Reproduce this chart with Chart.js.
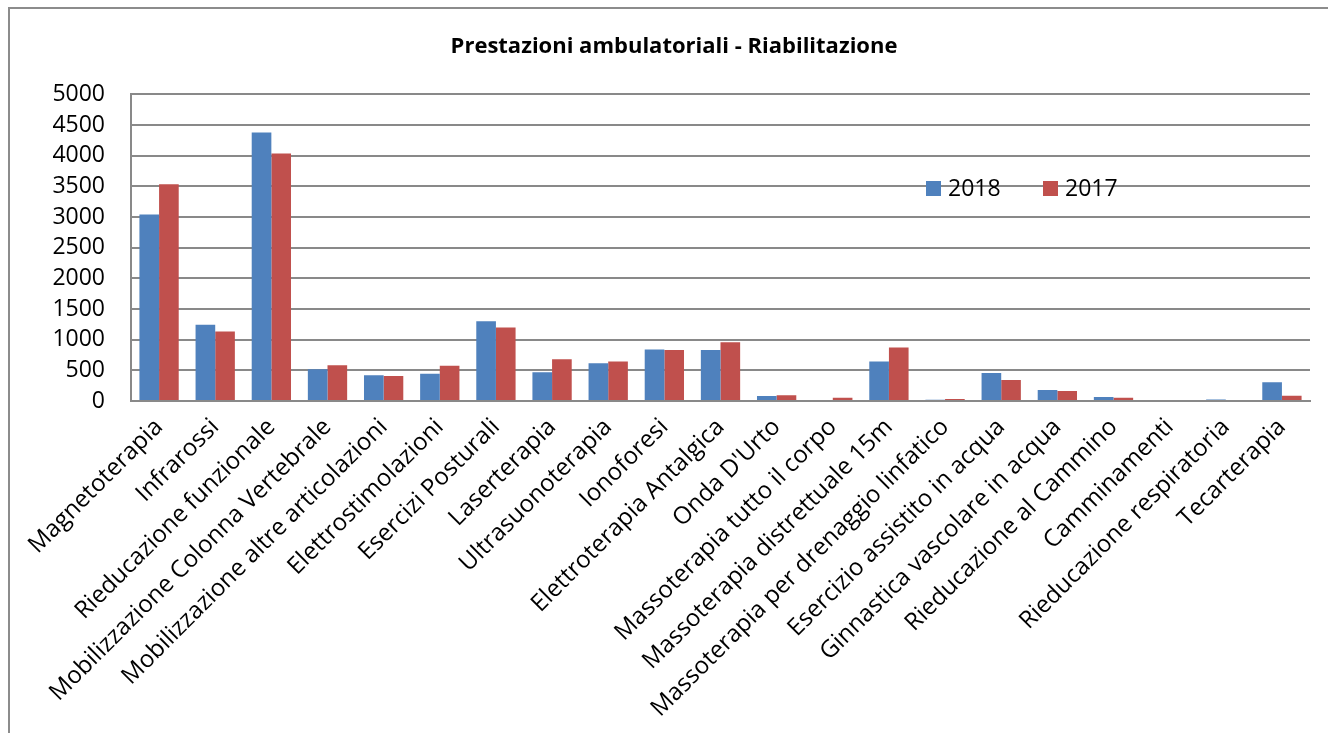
<!DOCTYPE html>
<html>
<head>
<meta charset="utf-8">
<title>Prestazioni ambulatoriali - Riabilitazione</title>
<script src="https://cdn.jsdelivr.net/npm/chart.js@4/dist/chart.umd.min.js"></script>
<style>
    html, body { margin: 0; padding: 0; background: #fff; overflow: hidden; }
    #wrap { position: relative; width: 1328px; height: 733px; }
</style>
</head>
<body>
<div id="wrap"><canvas id="riabChart" width="1328" height="733"></canvas></div>
<script>
const categories = [
    'Magnetoterapia', 'Infrarossi', 'Rieducazione funzionale', 'Mobilizzazione Colonna Vertebrale',
    'Mobilizzazione altre articolazioni', 'Elettrostimolazioni', 'Esercizi Posturali', 'Laserterapia',
    'Ultrasuonoterapia', 'Ionoforesi', 'Elettroterapia Antalgica', "Onda D'Urto",
    'Massoterapia tutto il corpo', 'Massoterapia distrettuale 15m', 'Massoterapia per drenaggio linfatico',
    'Esercizio assistito in acqua', 'Ginnastica vascolare in acqua', 'Rieducazione al Cammino',
    'Camminamenti', 'Rieducazione respiratoria', 'Tecarterapia'
];
const values2018 = [3040, 1245, 4380, 516, 418, 445, 1302, 467, 614, 841, 830, 81, 16, 646, 22, 458, 179, 65, 0, 25, 305];
const values2017 = [3535, 1135, 4037, 581, 407, 575, 1200, 679, 646, 830, 960, 93, 54, 874, 32, 342, 163, 54, 0, 0, 86];
const yTicks = [0, 500, 1000, 1500, 2000, 2500, 3000, 3500, 4000, 4500, 5000];

const FONT = "'Open Sans', 'DejaVu Sans', sans-serif";
const BLUE = '#4F81BD';
const RED = '#C0504D';
const GRID = '#898989';

// outer frame of the chart object (top and left edges)
const framePlugin = {
    id: 'frame',
    beforeDraw(chart) {
        const ctx = chart.ctx;
        ctx.save();
        ctx.strokeStyle = '#8c8c8c';
        ctx.lineWidth = 2;
        ctx.beginPath();
        ctx.moveTo(9, 733);
        ctx.lineTo(9, 8);
        ctx.lineTo(1328, 8);
        ctx.stroke();
        ctx.restore();
    }
};

// legend sitting inside the plot area, right of centre
const innerLegend = {
    id: 'innerLegend',
    afterDatasetsDraw(chart) {
        const ctx = chart.ctx;
        const y = 188;
        let x = 926;
        ctx.save();
        ctx.font = '23px ' + FONT;
        ctx.textBaseline = 'middle';
        chart.data.datasets.forEach(ds => {
            ctx.fillStyle = ds.backgroundColor;
            ctx.fillRect(x, y - 7, 15, 15);
            ctx.fillStyle = '#000';
            ctx.fillText(ds.label, x + 22, y + 1);
            x += 117;
        });
        ctx.restore();
    }
};

const ctx = document.getElementById('riabChart').getContext('2d');
const riabChart = new Chart(ctx, {
    type: 'bar',
    data: {
        labels: categories,
        datasets: [{
            label: '2018',
            data: values2018,
            backgroundColor: BLUE,
            categoryPercentage: 0.7,
            barPercentage: 1.0
        }, {
            label: '2017',
            data: values2017,
            backgroundColor: RED,
            categoryPercentage: 0.7,
            barPercentage: 1.0
        }]
    },
    options: {
        responsive: false,
        animation: false,
        layout: { padding: { left: 38, right: 18, top: 0, bottom: 0 } },
        plugins: {
            legend: { display: false },
            tooltip: { enabled: false },
            title: {
                display: true,
                text: 'Prestazioni ambulatoriali - Riabilitazione',
                color: '#000',
                font: { family: FONT, size: 22, weight: 'bold', lineHeight: 1.2 },
                padding: { top: 34, bottom: 34 }
            }
        },
        scales: {
            x: {
                grid: { display: false, drawTicks: false },
                border: { display: true, color: GRID, width: 2 },
                ticks: {
                    color: '#000',
                    font: { family: FONT, size: 24 },
                    maxRotation: 45,
                    minRotation: 45,
                    autoSkip: false,
                    padding: 12
                },
                afterFit(scale) { scale.height = 332; }
            },
            y: {
                min: 0,
                max: 5000,
                afterBuildTicks(scale) { scale.ticks = yTicks.map(v => ({ value: v })); },
                grid: { color: GRID, lineWidth: 2, drawTicks: false },
                border: { display: true, color: GRID, width: 2 },
                ticks: {
                    color: '#000',
                    font: { family: FONT, size: 23 },
                    padding: 26,
                    callback: v => String(v)
                },
                afterFit(scale) { scale.width = 93; }
            }
        }
    },
    plugins: [framePlugin, innerLegend]
});
</script>
</body>
</html>
